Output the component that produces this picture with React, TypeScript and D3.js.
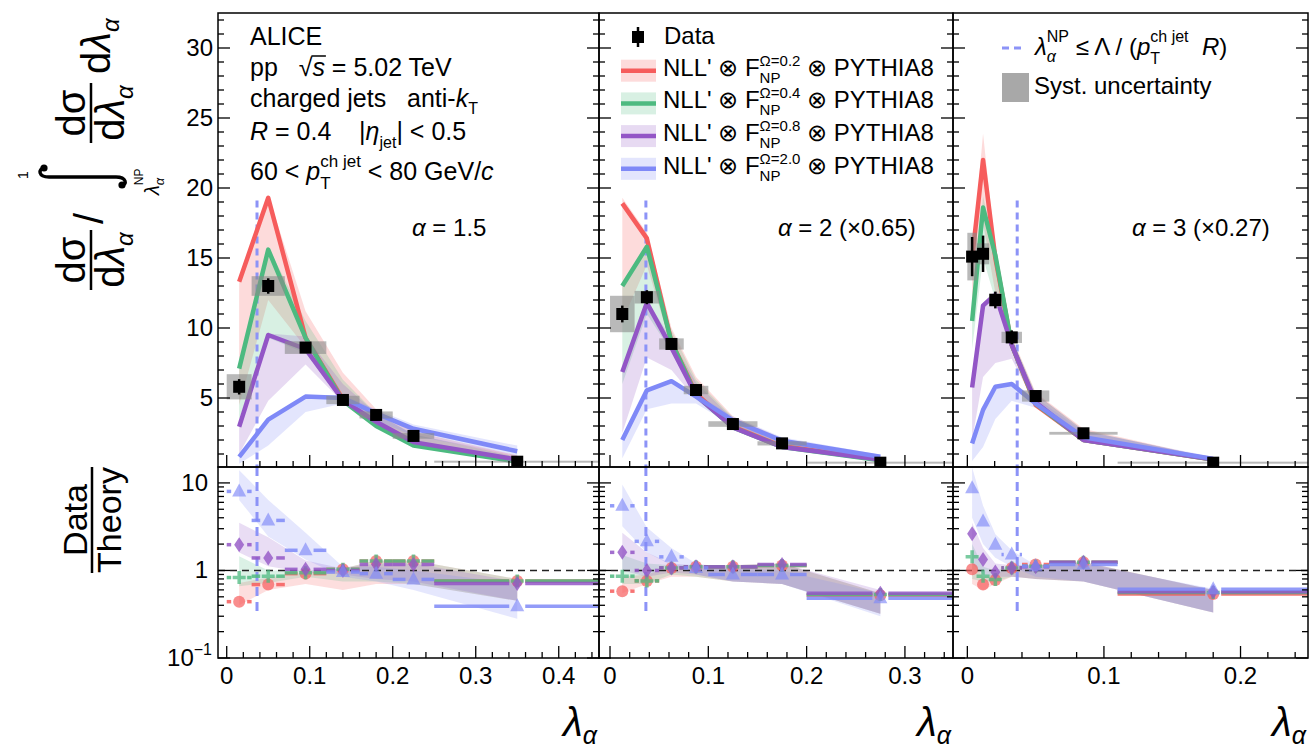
import React, { useRef, useEffect } from 'react'
import * as d3 from 'd3'

const FONT = '"Liberation Sans", Arial, Helvetica, sans-serif'

const modelOmega = ['0.2', '0.4', '0.8', '2.0']
const modelColors = ['#f65c5c', '#4dba80', '#9356c6', '#7f89f7']
const modelMarkers = ['circle', 'cross', 'diamond', 'triangle']
const npColor = '#8c93f7'

// lambda_NP cut and how far the dashed marker line reaches
const lambdaNP = 0.0365
const npTop = 19.1
const npRatioLow = 0.33

const yTickLabels = [5, 10, 15, 20, 25, 30]

// ---- alpha = 1.5
const a15Edges = [0, 0.03, 0.07, 0.12, 0.16, 0.2, 0.25, 0.45]
const a15Data = [5.8, 13.0, 8.6, 4.86, 3.79, 2.29, 0.45]
const a15Stat = [0.55, 0.55, 0.3, 0.2, 0.15, 0.1, 0.04]
const a15Syst = [0.9, 0.7, 0.45, 0.3, 0.25, 0.2, 0.04]
const a15Theory = [
  [13.3, 19.3, 9.3, 4.9, 3.1, 1.7, 0.5],
  [7.1, 15.6, 9.3, 4.8, 3.0, 1.6, 0.45],
  [2.95, 9.5, 8.5, 4.85, 3.3, 1.85, 0.6],
  [0.8, 3.45, 5.1, 5.0, 3.9, 2.8, 1.2],
]
const a15TheoryLo = [
  [4.5, 12.0, 8.6, 4.8, 3.0, 1.6, 0.45],
  [3.5, 9.3, 8.2, 4.7, 2.9, 1.5, 0.4],
  [1.0, 4.8, 7.4, 4.7, 3.2, 1.7, 0.55],
  [0.3, 1.6, 4.0, 4.6, 3.4, 2.3, 0.9],
]
const a15TheoryHi = [
  [13.4, 19.5, 11.2, 6.8, 4.2, 2.6, 0.9],
  [7.2, 15.8, 10.5, 6.3, 3.9, 2.4, 0.8],
  [3.0, 9.6, 9.4, 6.0, 3.9, 2.4, 0.9],
  [0.85, 3.5, 5.2, 5.2, 4.2, 3.1, 1.6],
]
const a15Ratio = [
  [0.44, 0.69, 0.92, 1.03, 1.28, 1.28, 0.76],
  [0.83, 0.86, 0.94, 1.03, 1.28, 1.28, 0.76],
  [1.97, 1.39, 1.03, 1.0, 1.17, 1.17, 0.71],
  [8.0, 3.73, 1.7, 0.96, 0.92, 0.79, 0.39],
]
const a15RatioLo = [
  [0.4, 0.6, 0.7, 0.6, 0.7, 0.7, 0.45],
  [0.66, 0.72, 0.85, 0.75, 0.75, 0.7, 0.45],
  [1.6, 1.12, 0.95, 0.9, 0.8, 0.75, 0.45],
  [6.4, 2.45, 1.33, 0.85, 0.75, 0.6, 0.28],
]
const a15RatioHi = [
  [0.72, 0.83, 0.95, 1.05, 1.3, 1.3, 0.8],
  [1.45, 1.0, 1.0, 1.05, 1.3, 1.3, 0.8],
  [3.5, 2.4, 1.3, 1.05, 1.2, 1.2, 0.75],
  [14, 6.4, 2.7, 1.1, 1.1, 1.0, 0.7],
]

// ---- alpha = 2 (x0.65)
const a2Edges = [0, 0.025, 0.05, 0.075, 0.1, 0.15, 0.2, 0.35]
const a2Data = [11.0, 12.2, 8.86, 5.57, 3.14, 1.76, 0.38]
const a2Stat = [0.6, 0.5, 0.3, 0.2, 0.1, 0.08, 0.04]
const a2Syst = [1.3, 0.45, 0.4, 0.3, 0.2, 0.15, 0.04]
const a2Theory = [
  [18.9, 16.4, 9.0, 5.3, 2.95, 1.55, 0.6],
  [13.0, 15.8, 9.0, 5.2, 2.9, 1.5, 0.55],
  [6.85, 11.8, 8.6, 5.2, 2.9, 1.5, 0.6],
  [2.0, 5.55, 6.2, 5.1, 3.4, 1.95, 0.8],
]
const a2TheoryLo = [
  [10.5, 14.5, 8.6, 5.1, 2.8, 1.45, 0.5],
  [6.0, 11.0, 8.3, 5.0, 2.8, 1.4, 0.5],
  [2.5, 7.9, 7.0, 4.9, 2.8, 1.4, 0.5],
  [0.7, 4.2, 4.6, 4.6, 3.0, 1.7, 0.6],
]
const a2TheoryHi = [
  [19.3, 16.8, 10.0, 6.5, 3.7, 2.1, 0.85],
  [13.2, 16.0, 9.8, 6.3, 3.6, 2.0, 0.8],
  [7.0, 12.0, 9.2, 6.1, 3.5, 1.95, 0.8],
  [2.1, 5.6, 6.3, 5.3, 3.7, 2.2, 0.95],
]
const a2Ratio = [
  [0.58, 0.76, 1.07, 1.1, 1.1, 1.14, 0.52],
  [0.86, 0.76, 1.07, 1.1, 1.1, 1.14, 0.53],
  [1.61, 1.0, 1.07, 1.1, 1.1, 1.17, 0.55],
  [5.48, 2.15, 1.43, 1.07, 0.9, 0.9, 0.48],
]
const a2RatioLo = [
  [0.55, 0.7, 0.85, 0.85, 0.75, 0.7, 0.32],
  [0.7, 0.7, 0.9, 0.85, 0.75, 0.7, 0.32],
  [1.0, 0.85, 0.95, 0.9, 0.75, 0.7, 0.32],
  [3.2, 1.6, 1.15, 0.9, 0.75, 0.7, 0.3],
]
const a2RatioHi = [
  [0.85, 0.9, 1.1, 1.15, 1.15, 1.2, 0.55],
  [1.5, 1.2, 1.15, 1.15, 1.15, 1.2, 0.55],
  [2.7, 1.6, 1.2, 1.15, 1.15, 1.2, 0.6],
  [9.6, 3.1, 1.8, 1.2, 1.05, 1.0, 0.55],
]

// ---- alpha = 3 (x0.27)
const a3Edges = [0, 0.007, 0.016, 0.025, 0.04, 0.06, 0.11, 0.25]
const a3Data = [15.1, 15.3, 12.0, 9.33, 5.14, 2.48, 0.38]
const a3Stat = [1.4, 1.3, 0.6, 0.5, 0.2, 0.1, 0.04]
const a3Syst = [1.7, 0.75, 0.5, 0.4, 0.4, 0.1, 0.04]
const a3Theory = [
  [15.0, 22.0, 15.0, 8.8, 4.5, 2.0, 0.6],
  [10.5, 18.6, 15.2, 8.8, 4.6, 2.0, 0.6],
  [5.75, 11.6, 12.4, 8.8, 4.7, 2.0, 0.62],
  [1.75, 4.15, 5.8, 6.0, 4.6, 2.2, 0.65],
]
const a3TheoryLo = [
  [11.0, 17.5, 12.5, 8.5, 4.4, 1.9, 0.5],
  [8.5, 15.0, 12.0, 8.4, 4.4, 1.9, 0.5],
  [2.0, 6.5, 7.5, 7.8, 4.5, 1.9, 0.5],
  [0.5, 1.5, 3.5, 4.8, 4.3, 2.1, 0.6],
]
const a3TheoryHi = [
  [15.2, 23.9, 15.6, 9.4, 5.4, 2.8, 0.7],
  [10.6, 19.4, 15.6, 9.3, 5.3, 2.7, 0.7],
  [5.9, 11.8, 12.6, 9.2, 5.3, 2.7, 0.7],
  [1.8, 4.3, 5.9, 6.1, 5.0, 2.6, 0.8],
]
const a3Ratio = [
  [1.03, 0.69, 0.78, 1.07, 1.17, 1.24, 0.54],
  [1.43, 0.86, 0.79, 1.07, 1.12, 1.24, 0.56],
  [2.63, 1.33, 0.96, 1.07, 1.1, 1.24, 0.57],
  [8.7, 3.63, 1.97, 1.52, 1.12, 1.17, 0.61],
]
const a3RatioLo = [
  [0.7, 0.6, 0.7, 0.85, 0.8, 0.75, 0.33],
  [0.8, 0.75, 0.75, 0.85, 0.8, 0.75, 0.33],
  [1.2, 0.9, 0.85, 0.85, 0.8, 0.75, 0.33],
  [4.0, 2.0, 1.4, 1.1, 0.85, 0.75, 0.33],
]
const a3RatioHi = [
  [1.3, 0.85, 0.9, 1.1, 1.15, 1.25, 0.6],
  [2.0, 1.1, 1.0, 1.15, 1.15, 1.25, 0.6],
  [3.5, 1.8, 1.2, 1.15, 1.15, 1.25, 0.6],
  [15, 5.5, 2.6, 1.7, 1.15, 1.2, 0.62],
]

const panels = [
  { x0: 218, x1: 599, dom: [-0.0105, 0.4485], labels: [0, 0.1, 0.2, 0.3, 0.4],
    edges: a15Edges, data: a15Data, stat: a15Stat, syst: a15Syst,
    theory: a15Theory, lo: a15TheoryLo, hi: a15TheoryHi,
    ratio: a15Ratio, rLo: a15RatioLo, rHi: a15RatioHi, alpha: ' = 1.5', alphaX: 412 },
  { x0: 599, x1: 953, dom: [-0.0112, 0.3489], labels: [0, 0.1, 0.2, 0.3],
    edges: a2Edges, data: a2Data, stat: a2Stat, syst: a2Syst,
    theory: a2Theory, lo: a2TheoryLo, hi: a2TheoryHi,
    ratio: a2Ratio, rLo: a2RatioLo, rHi: a2RatioHi, alpha: ' = 2 (×0.65)', alphaX: 778 },
  { x0: 953, x1: 1308, dom: [-0.0105, 0.2494], labels: [0, 0.1, 0.2],
    edges: a3Edges, data: a3Data, stat: a3Stat, syst: a3Syst,
    theory: a3Theory, lo: a3TheoryLo, hi: a3TheoryHi,
    ratio: a3Ratio, rLo: a3RatioLo, rHi: a3RatioHi, alpha: ' = 3 (×0.27)', alphaX: 1132 },
]

// lays out text pieces one after another (sub/superscripts, italics)
function rich(parent: any, x: number, y: number, segs: any[], size = 24, anchor = 'start') {
  const g = parent.append('g')
  let cx = 0
  let held = 0
  segs.forEach(sg => {
    const fs = sg.s || size
    const t = g.append('text')
      .attr('x', cx).attr('y', sg.dy || 0)
      .attr('font-size', fs)
      .style('white-space', 'pre')
      .text(sg.t)
    if (sg.it) t.attr('font-style', 'italic')
    const w = t.node().getComputedTextLength()
    if (sg.over) {
      g.append('line').attr('x1', cx - 1).attr('x2', cx + w + 1)
        .attr('y1', -fs * 0.8).attr('y2', -fs * 0.8).attr('stroke', '#000').attr('stroke-width', 1.5)
    }
    if (sg.stack) {
      held = Math.max(held, w)
    } else {
      cx += Math.max(w, held)
      held = 0
    }
  })
  const shift = anchor === 'end' ? -cx : anchor === 'middle' ? -cx / 2 : 0
  g.attr('transform', `translate(${x + shift},${y})`)
  return g
}

function marker(g: any, kind: string, cx: number, cy: number, color: string) {
  if (kind === 'circle') {
    g.append('circle').attr('cx', cx).attr('cy', cy).attr('r', 6).attr('fill', color).attr('fill-opacity', 0.7)
  } else if (kind === 'cross') {
    g.append('path').attr('d', `M${cx - 6.5},${cy}H${cx + 6.5}M${cx},${cy - 6.5}V${cy + 6.5}`)
      .attr('stroke', color).attr('stroke-width', 3.5).attr('stroke-opacity', 0.75)
  } else if (kind === 'diamond') {
    g.append('path').attr('d', `M${cx},${cy - 7.5}L${cx + 5},${cy}L${cx},${cy + 7.5}L${cx - 5},${cy}Z`)
      .attr('fill', color).attr('fill-opacity', 0.8)
  } else {
    g.append('path').attr('d', `M${cx},${cy - 8}L${cx + 7},${cy + 5}L${cx - 7},${cy + 5}Z`)
      .attr('fill', color).attr('fill-opacity', 0.65)
  }
}

export default function App() {
  const ref = useRef<SVGSVGElement>(null)

  useEffect(() => {
    const svg = d3.select(ref.current)
    svg.selectAll('*').remove()
    const defs = svg.append('defs')

    const TOP = 13, MID = 467, BOT = 658
    const y = d3.scaleLinear().domain([0, 32.5]).range([468, 13])
    const yr = d3.scaleLog().domain([0.1, 15.2]).range([BOT, MID])

    panels.forEach((p, i) => {
      const x = d3.scaleLinear().domain(p.dom).range([p.x0, p.x1])
      const centers = p.data.map((_, k) => (p.edges[k] + p.edges[k + 1]) / 2)

      defs.append('clipPath').attr('id', `ct${i}`).append('rect')
        .attr('x', p.x0).attr('y', TOP).attr('width', p.x1 - p.x0).attr('height', MID - TOP)
      defs.append('clipPath').attr('id', `cr${i}`).append('rect')
        .attr('x', p.x0).attr('y', MID).attr('width', p.x1 - p.x0).attr('height', BOT - MID)

      // ---------- upper panel
      const gt = svg.append('g').attr('clip-path', `url(#ct${i})`)
      p.theory.forEach((_, m) => {
        const area = d3.area<number>()
          .x((_, k) => x(centers[k]))
          .y0((_, k) => y(p.lo[m][k]))
          .y1((_, k) => y(p.hi[m][k]))
        gt.append('path').attr('d', area(p.lo[m])).attr('fill', modelColors[m]).attr('fill-opacity', 0.22)
      })
      gt.append('line')
        .attr('x1', x(lambdaNP)).attr('x2', x(lambdaNP))
        .attr('y1', y(npTop)).attr('y2', MID)
        .attr('stroke', npColor).attr('stroke-width', 3).attr('stroke-dasharray', '7,5')
      p.theory.forEach((vals, m) => {
        const line = d3.line<number>().x((_, k) => x(centers[k])).y(d => y(d))
        gt.append('path').attr('d', line(vals)).attr('fill', 'none')
          .attr('stroke', modelColors[m]).attr('stroke-width', 4.5).attr('stroke-linejoin', 'round')
      })
      p.data.forEach((d, k) => {
        const h = Math.max(2, y(d - p.syst[k]) - y(d + p.syst[k]))
        gt.append('rect')
          .attr('x', x(p.edges[k])).attr('width', x(p.edges[k + 1]) - x(p.edges[k]))
          .attr('y', y(d) - h / 2).attr('height', h)
          .attr('fill', '#8a8a8a').attr('fill-opacity', 0.6)
      })
      p.data.forEach((d, k) => {
        gt.append('line').attr('x1', x(centers[k])).attr('x2', x(centers[k]))
          .attr('y1', y(d + p.stat[k])).attr('y2', y(d - p.stat[k]))
          .attr('stroke', '#000').attr('stroke-width', 2.5)
        gt.append('rect').attr('x', x(centers[k]) - 6).attr('y', y(d) - 6)
          .attr('width', 12).attr('height', 12).attr('fill', '#000')
      })

      // ---------- ratio panel
      const gr = svg.append('g').attr('clip-path', `url(#cr${i})`)
      p.ratio.forEach((_, m) => {
        const area = d3.area<number>()
          .x((_, k) => x(centers[k]))
          .y0((_, k) => yr(p.rLo[m][k]))
          .y1((_, k) => yr(p.rHi[m][k]))
        gr.append('path').attr('d', area(p.rLo[m])).attr('fill', modelColors[m]).attr('fill-opacity', 0.2)
      })
      gr.append('line').attr('x1', p.x0).attr('x2', p.x1).attr('y1', yr(1)).attr('y2', yr(1))
        .attr('stroke', '#222').attr('stroke-width', 1.6).attr('stroke-dasharray', '7,5')
      gr.append('line')
        .attr('x1', x(lambdaNP)).attr('x2', x(lambdaNP))
        .attr('y1', MID).attr('y2', yr(npRatioLow))
        .attr('stroke', npColor).attr('stroke-width', 3).attr('stroke-dasharray', '9,6')
      p.ratio.forEach((vals, m) => {
        vals.forEach((v, k) => {
          const cx = x(centers[k]), cy = yr(v)
          const xl = x(p.edges[k]), xh = x(p.edges[k + 1])
          const gap = 8
          if (cx - gap > xl) {
            gr.append('line').attr('x1', xl).attr('x2', cx - gap).attr('y1', cy).attr('y2', cy)
              .attr('stroke', modelColors[m]).attr('stroke-width', 3.5).attr('stroke-opacity', 0.85)
          }
          if (cx + gap < xh) {
            gr.append('line').attr('x1', cx + gap).attr('x2', xh).attr('y1', cy).attr('y2', cy)
              .attr('stroke', modelColors[m]).attr('stroke-width', 3.5).attr('stroke-opacity', 0.85)
          }
          marker(gr, modelMarkers[m], cx, cy, modelColors[m])
        })
      })

      // ---------- frames and ticks
      svg.append('rect').attr('x', p.x0).attr('y', TOP).attr('width', p.x1 - p.x0).attr('height', MID - TOP)
        .attr('fill', 'none').attr('stroke', '#000').attr('stroke-width', 1.5)
      svg.append('rect').attr('x', p.x0).attr('y', MID).attr('width', p.x1 - p.x0).attr('height', BOT - MID)
        .attr('fill', 'none').attr('stroke', '#000').attr('stroke-width', 1.5)

      const ticks = svg.append('g').attr('stroke', '#000').attr('stroke-width', 1.3)
      d3.range(0, p.dom[1], 0.02).forEach(v => {
        const major = Math.abs(v * 10 - Math.round(v * 10)) < 1e-6
        const len = major ? 12 : 6
        ;[MID, BOT].forEach(yb => {
          ticks.append('line').attr('x1', x(v)).attr('x2', x(v)).attr('y1', yb).attr('y2', yb - len)
        })
      })
      d3.range(1, 33, 1).forEach(v => {
        const len = v % 5 === 0 ? 12 : 6
        ticks.append('line').attr('x1', p.x0).attr('x2', p.x0 + len).attr('y1', y(v)).attr('y2', y(v))
        ticks.append('line').attr('x1', p.x1).attr('x2', p.x1 - len).attr('y1', y(v)).attr('y2', y(v))
      })
      ;[-1, 0, 1].forEach(e => {
        d3.range(1, 10).forEach(kk => {
          const v = kk * Math.pow(10, e)
          if (v > 15.2) return
          const len = kk === 1 ? 12 : 6
          ticks.append('line').attr('x1', p.x0).attr('x2', p.x0 + len).attr('y1', yr(v)).attr('y2', yr(v))
          ticks.append('line').attr('x1', p.x1).attr('x2', p.x1 - len).attr('y1', yr(v)).attr('y2', yr(v))
        })
      })

      p.labels.forEach(v => {
        svg.append('text').attr('x', x(v)).attr('y', 684).attr('text-anchor', 'middle')
          .attr('font-size', 24).text(String(v))
      })
      rich(svg, p.x1 - 2, 736, [{ t: 'λ', it: true }, { t: 'α', it: true, s: 25, dy: 8 }], 40, 'end')
      rich(svg, p.alphaX, 236, [{ t: 'α', it: true }, { t: p.alpha }], 24)
    })

    // y tick labels (first pad only)
    yTickLabels.forEach(v => {
      svg.append('text').attr('x', 213).attr('y', y(v) + 8).attr('text-anchor', 'end')
        .attr('font-size', 24).text(String(v))
    })
    rich(svg, 208, yr(10) + 8, [{ t: '10' }], 24, 'end')
    rich(svg, 208, yr(1) + 8, [{ t: '1' }], 24, 'end')
    rich(svg, 212, yr(0.1) + 8, [{ t: '10' }, { t: '−1', s: 16, dy: -11 }], 24, 'end')

    // y axis title (rotated)
    const yt = svg.append('g').attr('transform', 'translate(91,290) rotate(-90)')
    yt.append('line').attr('x1', 0).attr('x2', 60).attr('y1', 0).attr('y2', 0).attr('stroke', '#000').attr('stroke-width', 2.5)
    rich(yt, 30, -6, [{ t: 'dσ' }], 40, 'middle')
    rich(yt, 30, 33, [{ t: 'd' }, { t: 'λ', it: true }, { t: 'α', it: true, s: 24, dy: 9 }], 40, 'middle')
    rich(yt, 66, 12, [{ t: '/' }], 40)
    yt.append('path').attr('d', 'M122,-47 C121,-53 113,-53 113,-42 L113,25 C113,36 105,36 105,31')
      .attr('fill', 'none').attr('stroke', '#000').attr('stroke-width', 3.5)
    yt.append('circle').attr('cx', 122).attr('cy', -47).attr('r', 3.6)
    yt.append('circle').attr('cx', 105).attr('cy', 31).attr('r', 3.6)
    rich(yt, 111, -63, [{ t: '1' }], 14)
    rich(yt, 95, 68, [{ t: 'λ', it: true }, { t: 'NP', s: 12, dy: -16, stack: true }, { t: 'α', it: true, s: 13, dy: 5 }], 20)
    yt.append('line').attr('x1', 147).attr('x2', 207).attr('y1', 0).attr('y2', 0).attr('stroke', '#000').attr('stroke-width', 2.5)
    rich(yt, 177, -6, [{ t: 'dσ' }], 40, 'middle')
    rich(yt, 177, 33, [{ t: 'd' }, { t: 'λ', it: true }, { t: 'α', it: true, s: 24, dy: 9 }], 40, 'middle')
    rich(yt, 216, 19, [{ t: 'd' }, { t: 'λ', it: true }, { t: 'α', it: true, s: 24, dy: 9 }], 40)

    const rt = svg.append('g').attr('transform', 'translate(92,520) rotate(-90)')
    rt.append('line').attr('x1', -53).attr('x2', 53).attr('y1', 0).attr('y2', 0).attr('stroke', '#000').attr('stroke-width', 2.5)
    rich(rt, 0, -5, [{ t: 'Data' }], 34, 'middle')
    rich(rt, 0, 29, [{ t: 'Theory' }], 34, 'middle')

    // ALICE text block
    rich(svg, 250, 45, [{ t: 'ALICE' }], 25)
    rich(svg, 250, 76, [{ t: 'pp   ' }, { t: '√' }, { t: 's', it: true, over: true }, { t: ' = 5.02 TeV' }], 25)
    rich(svg, 250, 107, [{ t: 'charged jets   anti-' }, { t: 'k', it: true }, { t: 'T', s: 16, dy: 7 }], 25)
    rich(svg, 250, 140, [{ t: 'R', it: true }, { t: ' = 0.4    |' }, { t: 'η', it: true }, { t: 'jet', s: 16, dy: 8 }, { t: '| < 0.5' }], 25)
    rich(svg, 250, 180, [{ t: '60 < ' }, { t: 'p', it: true }, { t: 'ch jet', s: 17, dy: -13, stack: true }, { t: 'T', s: 17, dy: 9 }, { t: ' < 80 GeV/' }, { t: 'c', it: true }], 25)

    // legend (middle pad)
    svg.append('line').attr('x1', 638).attr('x2', 638).attr('y1', 27).attr('y2', 47).attr('stroke', '#000').attr('stroke-width', 2.5)
    svg.append('rect').attr('x', 632).attr('y', 31).attr('width', 12).attr('height', 12).attr('fill', '#000')
    rich(svg, 664, 44, [{ t: 'Data' }])
    modelOmega.forEach((om, m) => {
      const cy = 70.7 + m * 32.7
      svg.append('rect').attr('x', 621).attr('y', cy - 11).attr('width', 35).attr('height', 22)
        .attr('fill', modelColors[m]).attr('fill-opacity', 0.22)
      svg.append('line').attr('x1', 621).attr('x2', 656).attr('y1', cy).attr('y2', cy)
        .attr('stroke', modelColors[m]).attr('stroke-width', 4.5)
      rich(svg, 663, cy + 5, [
        { t: "NLL' ⊗ F" },
        { t: 'Ω=' + om, s: 15, dy: -10, stack: true },
        { t: 'NP', s: 15, dy: 7 },
        { t: ' ⊗ PYTHIA8' },
      ])
    })

    // legend (right pad)
    svg.append('line').attr('x1', 1002).attr('x2', 1024).attr('y1', 48).attr('y2', 48)
      .attr('stroke', npColor).attr('stroke-width', 3).attr('stroke-dasharray', '7,5')
    rich(svg, 1035, 55, [
      { t: 'λ', it: true },
      { t: 'NP', s: 16, dy: -13, stack: true },
      { t: 'α', it: true, s: 16, dy: 7 },
      { t: ' ≤ Λ / (' },
      { t: 'p', it: true },
      { t: 'ch jet', s: 16, dy: -13, stack: true },
      { t: 'T', s: 16, dy: 9 },
      { t: '  ' },
      { t: 'R', it: true },
      { t: ')' },
    ])
    svg.append('rect').attr('x', 1002).attr('y', 73).attr('width', 27).attr('height', 29).attr('fill', '#a8a8a8')
    rich(svg, 1034, 94, [{ t: 'Syst. uncertainty' }])
  }, [])

  return (
    <svg ref={ref} width={1314} height={754}
      style={{ position: 'absolute', left: 0, top: 0, background: '#fff', fontFamily: FONT }} />
  )
}
